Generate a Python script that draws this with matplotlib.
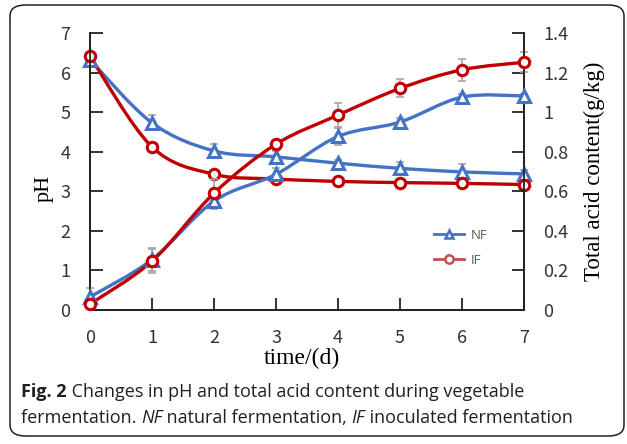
import numpy as np
import matplotlib.pyplot as plt
from matplotlib.path import Path
from matplotlib.patches import PathPatch, FancyBboxPatch
from matplotlib.lines import Line2D

days = [0, 1, 2, 3, 4, 5, 6, 7]

ph_nf = [6.32, 4.73, 4.02, 3.87, 3.71, 3.58, 3.49, 3.44]
ph_if = [6.41, 4.12, 3.43, 3.31, 3.25, 3.22, 3.20, 3.17]
ph_nf_err = [0.05, 0.19, 0.18, 0.14, 0.08, 0.17, 0.19, 0.11]
ph_if_err = [0.04, 0.04, 0.05, 0.04, 0.04, 0.04, 0.04, 0.04]

acid_nf = [0.066, 0.255, 0.55, 0.686, 0.877, 0.950, 1.076, 1.082]
acid_if = [0.030, 0.247, 0.590, 0.838, 0.985, 1.120, 1.214, 1.252]
acid_nf_err = [0.045, 0.06, 0.04, 0.03, 0.043, 0.02, 0.015, 0.01]
acid_if_err = [0.01, 0.06, 0.07, 0.02, 0.06, 0.045, 0.055, 0.05]

BLUE = "#4472C4"
RED = "#C00000"
GREY = "#A6A6A6"


def smooth_path(x, y):
    # excel style smoothed line: cubic bezier through every point
    pts = np.column_stack([x, y]).astype(float)
    n = len(pts)
    verts = [pts[0]]
    codes = [Path.MOVETO]
    for i in range(n - 1):
        p0 = pts[max(i - 1, 0)]
        p1 = pts[i]
        p2 = pts[i + 1]
        p3 = pts[min(i + 2, n - 1)]
        c1 = p1 + (p2 - p0) / 6.0
        c2 = p2 - (p3 - p1) / 6.0
        verts += [c1, c2, p2]
        codes += [Path.CURVE4] * 3
    return Path(verts, codes)


def draw_series(ax, x, y, err, color, marker):
    ax.errorbar(x, y, yerr=err, fmt="none", ecolor=GREY, elinewidth=1.2,
                capsize=3, capthick=1.2, zorder=2, clip_on=False)
    ax.add_patch(PathPatch(smooth_path(x, y), facecolor="none", edgecolor=color,
                           lw=2.4, zorder=3, clip_on=False))
    ax.plot(x, y, ls="none", marker=marker, ms=8 if marker == "^" else 7.5,
            mfc="white", mec=color, mew=2.2, zorder=4, clip_on=False)


fig = plt.figure(figsize=(6.27, 4.44), dpi=100)
W, H = 627, 444

# rounded frame around figure + caption
frame = FancyBboxPatch((10 / W, 8 / H), 614 / W, 431 / H,
                       boxstyle="round,pad=0,rounding_size=0.025",
                       transform=fig.transFigure, facecolor="none",
                       edgecolor="#222222", lw=1.1, zorder=0)
fig.patches.append(frame)

ax = fig.add_axes([90 / W, 1 - 310 / H, 434 / W, 277 / H])
ax.set_facecolor("none")
ax2 = ax.twinx()

for a in (ax, ax2):
    a.spines["top"].set_visible(False)
    for s in ("left", "right", "bottom"):
        a.spines[s].set_linewidth(1.3)
        a.spines[s].set_color("#222222")

ax.set_xlim(0, 7)
ax.set_ylim(0, 7)
ax2.set_ylim(0, 1.4)
ax.set_xticks(days)
ax.set_yticks(range(8))
ax2.set_yticks([0, 0.2, 0.4, 0.6, 0.8, 1.0, 1.2, 1.4])
ax2.set_yticklabels(["0", "0.2", "0.4", "0.6", "0.8", "1", "1.2", "1.4"])

ax.tick_params(axis="both", direction="in", length=9, width=1.3, color="#222222")
ax.tick_params(axis="y", pad=14)
ax.tick_params(axis="x", pad=14)
ax2.tick_params(axis="y", direction="in", length=9, width=1.3, color="#222222", pad=14)
for lab in ax.get_xticklabels() + ax.get_yticklabels() + ax2.get_yticklabels():
    lab.set_fontfamily("Noto Sans CJK SC")
    lab.set_fontsize(13)
    lab.set_color("#333333")
    lab.set_fontweight("light")

draw_series(ax, days, ph_nf, ph_nf_err, BLUE, "^")
draw_series(ax, days, ph_if, ph_if_err, RED, "o")
draw_series(ax2, days, acid_nf, acid_nf_err, BLUE, "^")
draw_series(ax2, days, acid_if, acid_if_err, RED, "o")

serif = "Liberation Serif"
fig.text(44 / W, 1 - 188 / H, "pH", rotation=90, ha="center", va="center",
         family=serif, size=16)
fig.text(302 / W, 1 - 358 / H, "time/(d)", ha="center", va="center",
         family=serif, size=17)
fig.text(594 / W, 1 - 171 / H, "Total acid content(g/kg)", rotation=90,
         ha="center", va="center", family=serif, size=16.5)

handles = [Line2D([], [], color=BLUE, lw=2, marker="^", ms=6, mfc="white", mec=BLUE, mew=1.8),
           Line2D([], [], color="#C0504D", lw=2, marker="o", ms=6, mfc="white", mec="#C0504D", mew=1.8)]
leg = ax2.legend(handles, ["NF", "IF"], loc="upper left",
                 bbox_to_anchor=(0.765, 0.335), frameon=False, handlelength=2.3,
                 handletextpad=0.5, labelspacing=0.9,
                 prop=dict(family="Open Sans", size=9.5))
for t in leg.get_texts():
    t.set_color("#595959")

# caption, built from pieces so bold/italic parts line up
cap = dict(family="Open Sans", size=13, color="#231F20")
t1 = fig.text(21 / W, 1 - 392 / H, "Fig. 2", fontweight="bold", va="center", **cap)
ax.annotate(" Changes in pH and total acid content during vegetable",
            xy=(1, 0.5), xycoords=t1, va="center", annotation_clip=False, **cap)

pieces = [("fermentation. ", "normal"), ("NF", "italic"), (" natural fermentation, ", "normal"),
          ("IF", "italic"), (" inoculated fermentation", "normal")]
prev = fig.text(21 / W, 1 - 418 / H, pieces[0][0], va="center", **cap)
for txt, style in pieces[1:]:
    prev = ax.annotate(txt, xy=(1, 0.5), xycoords=prev, va="center",
                       fontstyle=style, annotation_clip=False, **cap)

fig.savefig("out.png", dpi=100)
